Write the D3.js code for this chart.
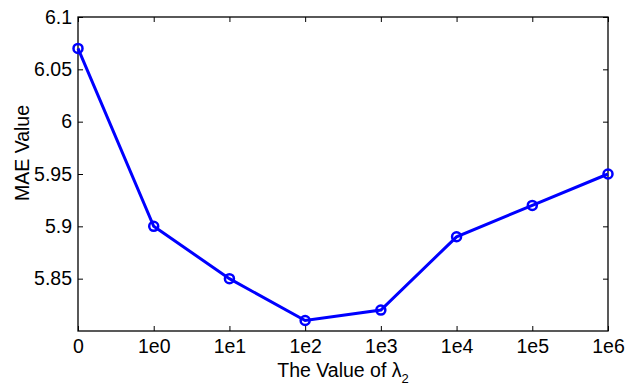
<!DOCTYPE html>
<html>
<head>
<meta charset="utf-8">
<script src="https://cdn.jsdelivr.net/npm/d3@7"></script>
<style>
  body { margin: 0; background: #fff; }
  text { font-family: "Liberation Sans", Arial, sans-serif; fill: #000; }
</style>
</head>
<body>
<div id="chart"></div>
<script>
// data
const categories = ["0", "1e0", "1e1", "1e2", "1e3", "1e4", "1e5", "1e6"];
const maeValues = [6.07, 5.90, 5.85, 5.81, 5.82, 5.89, 5.92, 5.95];
const yTicks = [5.85, 5.9, 5.95, 6, 6.05, 6.1];

// formatting constants
const width = 641;
const height = 390;
const margin = {top: 17, bottom: 59, left: 78, right: 33};
const innerW = width - margin.left - margin.right;
const innerH = height - margin.top - margin.bottom;
const tickLen = 5;
const fontSize = 19.5;

const svg = d3.select("#chart")
    .append("svg")
        .attr("width", width)
        .attr("height", height)
    .append("g")
        .attr("transform", `translate(${margin.left}, ${margin.top})`);

// scales
const x = d3.scalePoint()
    .domain(categories)
    .range([0, innerW]);

const y = d3.scaleLinear()
    .domain([5.8, 6.1])
    .range([innerH, 0]);

// axes (ticks pointing inward, mirrored on top/right)
const axisStyle = g => {
    g.select(".domain").remove();
    g.selectAll("line").attr("stroke", "#000").attr("stroke-width", 1);
    g.selectAll("text").attr("font-size", fontSize);
};

svg.append("g")
    .attr("transform", `translate(0, ${innerH})`)
    .call(d3.axisBottom(x).tickSizeInner(-tickLen).tickSizeOuter(0).tickPadding(8))
    .call(axisStyle);

svg.append("g")
    .call(d3.axisTop(x).tickSizeInner(-tickLen).tickSizeOuter(0).tickFormat(""))
    .call(axisStyle);

svg.append("g")
    .call(d3.axisLeft(y).tickValues(yTicks).tickSizeInner(-tickLen).tickSizeOuter(0)
        .tickPadding(6).tickFormat(d3.format("")))
    .call(axisStyle);

svg.append("g")
    .attr("transform", `translate(${innerW}, 0)`)
    .call(d3.axisRight(y).tickValues(yTicks).tickSizeInner(-tickLen).tickSizeOuter(0).tickFormat(""))
    .call(axisStyle);

// box
svg.append("rect")
    .attr("x", 0)
    .attr("y", 0)
    .attr("width", innerW)
    .attr("height", innerH)
    .attr("fill", "none")
    .attr("stroke", "#000")
    .attr("stroke-width", 1.3);

// line
const line = d3.line()
    .x((d, i) => x(categories[i]))
    .y(d => y(d));

svg.append("path")
    .datum(maeValues)
    .attr("d", line)
    .attr("fill", "none")
    .attr("stroke", "#0000ff")
    .attr("stroke-width", 3);

svg.append("g")
    .selectAll("circle")
    .data(maeValues)
    .join("circle")
        .attr("cx", (d, i) => x(categories[i]))
        .attr("cy", d => y(d))
        .attr("r", 4.5)
        .attr("fill", "none")
        .attr("stroke", "#0000ff")
        .attr("stroke-width", 2.5);

// labels
svg.append("text")
    .attr("transform", `translate(${22 - margin.left}, ${153 - margin.top}) rotate(-90)`)
    .attr("text-anchor", "middle")
    .attr("dy", "0.35em")
    .attr("font-size", fontSize)
    .text("MAE Value");

const xl = svg.append("text")
    .attr("x", innerW / 2)
    .attr("y", innerH + 46)
    .attr("text-anchor", "middle")
    .attr("font-size", fontSize);
xl.append("tspan").text("The Value of ");
xl.append("tspan").text("λ");
xl.append("tspan").attr("font-size", 13).attr("dy", 6).text("2");
</script>
</body>
</html>
